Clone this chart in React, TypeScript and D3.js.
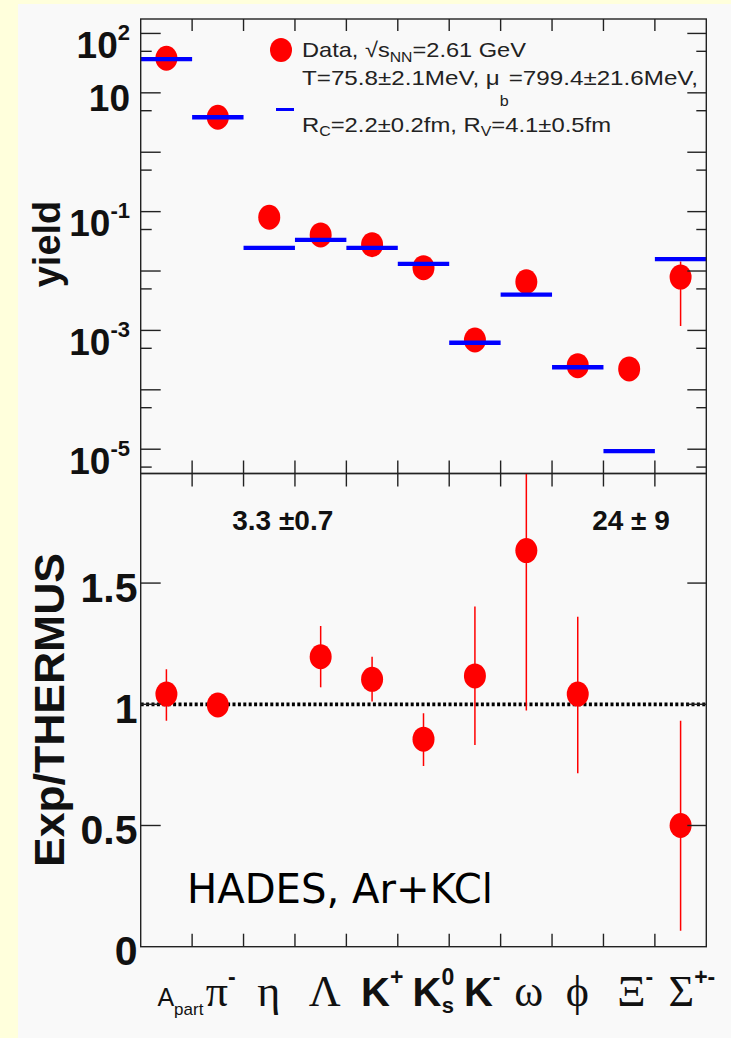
import React, { useEffect } from 'react';
import * as d3 from 'd3';

// ---------- data ----------
const categories = ['Apart', 'pi-', 'eta', 'Lambda', 'K+', 'K0s', 'K-', 'omega', 'phi', 'Xi-', 'Sigma+-'];
const labelBase = ['A', 'π', 'η', 'Λ', 'K', 'K', 'K', 'ω', 'ϕ', 'Ξ', 'Σ'];
const labelSup = ['', '-', '', '', '+', '0', '-', '', '', '-', '+-'];
const labelSub = ['part', '', '', '', '', 's', '', '', '', '', ''];
const labelKind = ['sans', 'serif', 'serif', 'serif', 'bold', 'bold', 'bold', 'serif', 'serif', 'serif', 'serif'];

const yieldData = [38.2, 3.88, 0.0805, 0.0406, 0.0278, 0.0114, 6.9e-4, 6.6e-3, 2.55e-4, 2.25e-4, 7.9e-3];
const yieldErrLo = [null, null, null, null, null, null, null, null, null, null, 1.19e-3];
const yieldErrHi = [null, null, null, null, null, null, null, null, null, null, 0.0144];
const thermusYield = [36.8, 3.88, 0.0245, 0.0334, 0.0245, 0.01315, 6.2e-4, 4.0e-3, 2.4e-4, 9.3e-6, 0.0158];

const ratio = [1.042, 0.997, null, 1.196, 1.103, 0.856, 1.117, 1.634, 1.042, null, 0.5];
const ratioLo = [0.932, null, null, 1.07, 1.011, 0.745, 0.832, 0.974, 0.716, null, 0.066];
const ratioHi = [1.144, null, null, 1.323, 1.196, 0.963, 1.403, 2.29, 1.361, null, 0.932];
const offScaleText = ['', '', '3.3 ±0.7', '', '', '', '', '', '', '24 ± 9', ''];

const yTopMajor = [1e2, 1e1, 1, 1e-1, 1e-2, 1e-3, 1e-4, 1e-5];
const yTopMinor = [50, 5, 0.5, 0.05, 0.005, 5e-4, 5e-5, 5e-6];
const yTopLabelValues = [1e2, 10, 1e-1, 1e-3, 1e-5];
const yTopLabelSup = ['2', '', '-1', '-3', '-5'];
const yBotTicks = [0.5, 1, 1.5];
const yBotLabelValues = [0, 0.5, 1, 1.5];
const yBotLabelText = ['0', '0.5', '1', '1.5'];

const legendLine1 = ['Data, √s', 'NN', '=2.61 GeV'];
const legendLine2 = ['T=75.8±2.1MeV, μ', 'b', '=799.4±21.6MeV,'];
const legendLine3 = ['R', 'C', '=2.2±0.2fm, R', 'V', '=4.1±0.5fm'];

// ---------- layout ----------
const W = 731;
const H = 1038;
const left = 140.7;
const right = 706.3;
const topY = 19;
const midY = 473.5;
const botY = 946.7;

const sans = 'Liberation Sans, Arial, Helvetica, sans-serif';
const serif = 'Liberation Serif, Times New Roman, serif';
const frame = '#222';

export default function App() {
  useEffect(() => {
    document.body.style.margin = '0';
  }, []);

  const n = categories.length;
  const x = d3.scaleLinear().domain([0, n]).range([left, right]);
  const yTop = d3.scaleLog().domain([3.9e-6, 175]).range([midY, topY]);
  const yBot = d3.scaleLinear().domain([0, 1.952]).range([botY, midY]);
  const edges = d3.range(1, n);
  const centers = d3.range(n).map((i) => x(i + 0.5));

  const rx = 11;
  const ry = 12.5;

  return (
    <svg width={W} height={H} style={{ display: 'block' }} xmlns="http://www.w3.org/2000/svg">
      <defs>
        <clipPath id="clipTop">
          <rect x={left} y={topY} width={right - left} height={midY - topY} />
        </clipPath>
        <clipPath id="clipBot">
          <rect x={left} y={midY} width={right - left} height={botY - midY} />
        </clipPath>
      </defs>
      <rect x={0} y={0} width={W} height={H} fill="#FFFFDC" />
      <rect x={18} y={4} width={W - 18} height={H - 4} fill="#F9F9F9" />

      {/* ===== top panel ===== */}
      <g clipPath="url(#clipTop)">
        {yieldData.map((v, i) =>
          yieldErrLo[i] != null ? (
            <line key={'te' + i} x1={centers[i]} x2={centers[i]} y1={yTop(yieldErrLo[i] as number)} y2={yTop(yieldErrHi[i] as number)} stroke="#FF0000" strokeWidth={1.5} />
          ) : null
        )}
        {yieldData.map((v, i) => (
          <ellipse key={'tp' + i} cx={centers[i]} cy={yTop(v)} rx={rx} ry={ry} fill="#FF0000" />
        ))}
        {thermusYield.map((v, i) => (
          <line key={'tl' + i} x1={x(i)} x2={x(i + 1)} y1={yTop(v)} y2={yTop(v)} stroke="#0000FF" strokeWidth={4.3} />
        ))}
      </g>

      {/* top panel frame & ticks */}
      <rect x={left} y={topY} width={right - left} height={midY - topY} fill="none" stroke={frame} strokeWidth={1.4} />
      {yTopMajor.map((v) => (
        <g key={'tM' + v}>
          <line x1={left} x2={left + 20} y1={yTop(v)} y2={yTop(v)} stroke={frame} strokeWidth={1.4} />
          <line x1={right} x2={right - 19} y1={yTop(v)} y2={yTop(v)} stroke={frame} strokeWidth={1.4} />
        </g>
      ))}
      {yTopMinor.map((v) => (
        <g key={'tm' + v}>
          <line x1={left} x2={left + 11} y1={yTop(v)} y2={yTop(v)} stroke={frame} strokeWidth={1.4} />
          <line x1={right} x2={right - 10} y1={yTop(v)} y2={yTop(v)} stroke={frame} strokeWidth={1.4} />
        </g>
      ))}
      {edges.map((e) => (
        <g key={'tx' + e}>
          <line x1={x(e)} x2={x(e)} y1={midY} y2={midY - 13} stroke={frame} strokeWidth={1.4} />
          <line x1={x(e)} x2={x(e)} y1={topY} y2={topY + 12} stroke={frame} strokeWidth={1.4} />
        </g>
      ))}
      {yTopLabelValues.map((v, i) => (
        <text
          key={'tyl' + i}
          x={130}
          y={yTop(v) + (yTopLabelSup[i] ? 24.5 : 18.5)}
          textAnchor="end"
          fontFamily={sans}
          fontWeight="bold"
          fontSize={37}
          fill="#111"
        >
          10
          {yTopLabelSup[i] ? (
            <tspan dy={-18} fontSize={22}>
              {yTopLabelSup[i]}
            </tspan>
          ) : null}
        </text>
      ))}
      <text transform="translate(60,244) rotate(-90)" textAnchor="middle" fontFamily={sans} fontWeight="bold" fontSize={38} fill="#111">
        yield
      </text>

      {/* legend */}
      <ellipse cx={281} cy={50} rx={11} ry={12} fill="#FF0000" />
      <line x1={276} x2={294} y1={109.5} y2={109.5} stroke="#0000FF" strokeWidth={3} />
      <text x={302} y={56.7} fontFamily={sans} fontSize={21} fill="#222" textLength={224} lengthAdjust="spacingAndGlyphs">
        {legendLine1[0]}
        <tspan dy={5} fontSize={14}>{legendLine1[1]}</tspan>
        <tspan dy={-5}>{legendLine1[2]}</tspan>
      </text>
      <text x={302} y={85} fontFamily={sans} fontSize={21} fill="#222" textLength={396} lengthAdjust="spacingAndGlyphs">
        {legendLine2[0]}
        <tspan dy={21} fontSize={14}>{legendLine2[1]}</tspan>
        <tspan dy={-21}>{legendLine2[2]}</tspan>
      </text>
      <text x={302} y={131.7} fontFamily={sans} fontSize={21} fill="#222" textLength={309} lengthAdjust="spacingAndGlyphs">
        {legendLine3[0]}
        <tspan dy={4} fontSize={14}>{legendLine3[1]}</tspan>
        <tspan dy={-4}>{legendLine3[2]}</tspan>
        <tspan dy={4} fontSize={14}>{legendLine3[3]}</tspan>
        <tspan dy={-4}>{legendLine3[4]}</tspan>
      </text>

      {/* ===== bottom panel ===== */}
      <line x1={left} x2={right} y1={yBot(1)} y2={yBot(1)} stroke="#000" strokeWidth={3.8} strokeDasharray="3,2.4" />
      <g clipPath="url(#clipBot)">
        {ratio.map((v, i) =>
          ratioLo[i] != null ? (
            <line key={'be' + i} x1={centers[i]} x2={centers[i]} y1={yBot(ratioLo[i] as number)} y2={yBot(ratioHi[i] as number)} stroke="#FF0000" strokeWidth={1.5} />
          ) : null
        )}
        {ratio.map((v, i) =>
          v != null ? <ellipse key={'bp' + i} cx={centers[i]} cy={yBot(v)} rx={rx} ry={ry} fill="#FF0000" /> : null
        )}
      </g>
      {offScaleText.map((t, i) =>
        t ? (
          <text key={'os' + i} x={centers[i] - 37} y={530} fontFamily={sans} fontWeight="bold" fontSize={28} fill="#111">
            {t}
          </text>
        ) : null
      )}
      <rect x={left} y={midY} width={right - left} height={botY - midY} fill="none" stroke={frame} strokeWidth={1.4} />
      {yBotTicks.map((v) => (
        <g key={'bt' + v}>
          <line x1={left} x2={left + 20} y1={yBot(v)} y2={yBot(v)} stroke={frame} strokeWidth={1.4} />
          <line x1={right} x2={right - 19} y1={yBot(v)} y2={yBot(v)} stroke={frame} strokeWidth={1.4} />
        </g>
      ))}
      {edges.map((e) => (
        <g key={'bx' + e}>
          <line x1={x(e)} x2={x(e)} y1={botY} y2={botY - 13} stroke={frame} strokeWidth={1.4} />
          <line x1={x(e)} x2={x(e)} y1={midY} y2={midY + 13} stroke={frame} strokeWidth={1.4} />
        </g>
      ))}
      {yBotLabelValues.map((v, i) => (
        <text key={'byl' + i} x={137.5} y={yBot(v) + 18.5} textAnchor="end" fontFamily={sans} fontWeight="bold" fontSize={41} fill="#111">
          {yBotLabelText[i]}
        </text>
      ))}
      <text transform="translate(64,710) rotate(-90)" textAnchor="middle" fontFamily={sans} fontWeight="bold" fontSize={42} fill="#111" textLength={314} lengthAdjust="spacingAndGlyphs">
        Exp/THERMUS
      </text>
      <text x={187} y={903} fontFamily="DejaVu Sans, sans-serif" fontSize={40} fill="#000" textLength={306} lengthAdjust="spacingAndGlyphs">
        HADES, Ar+KCl
      </text>

      {/* x-axis category labels */}
      {categories.map((c, i) => {
        const kind = labelKind[i];
        const base = 1006;
        const fam = kind === 'serif' ? serif : sans;
        const size = kind === 'serif' ? 44 : kind === 'bold' ? 40 : 25;
        const weight = kind === 'bold' ? 'bold' : 'normal';
        const x0 = centers[i] - (kind === 'sans' ? 9 : kind === 'bold' ? 11 : 12);
        return (
          <text key={'xl' + i} x={x0} y={base} fontFamily={fam} fontSize={size} fontWeight={weight} fill="#111">
            {labelBase[i]}
            {labelSup[i] ? (
              <tspan dy={-21} fontFamily={sans} fontWeight="bold" fontSize={23}>
                {labelSup[i]}
              </tspan>
            ) : null}
            {labelSub[i] ? (
              <tspan
                dx={labelSup[i] ? -12.5 : 0}
                dy={labelSup[i] ? 28 : 9}
                fontFamily={sans}
                fontWeight={kind === 'bold' ? 'bold' : 'normal'}
                fontSize={labelSup[i] ? 22 : 17}
              >
                {labelSub[i]}
              </tspan>
            ) : null}
          </text>
        );
      })}
    </svg>
  );
}
